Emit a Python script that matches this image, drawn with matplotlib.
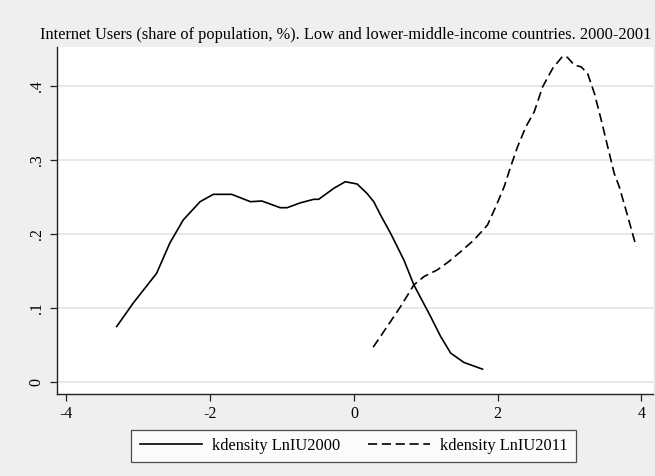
import numpy as np
import matplotlib.pyplot as plt

# kernel density estimates
x2000 = [-3.30, -3.07, -2.745, -2.56, -2.374, -2.14, -1.955, -1.70, -1.44, -1.28,
         -1.025, -0.93, -0.746, -0.56, -0.49, -0.28, -0.12, 0.045, 0.18, 0.276,
         0.37, 0.51, 0.695, 0.834, 1.067, 1.206, 1.346, 1.53, 1.788]
y2000 = [0.0754, 0.107, 0.147, 0.188, 0.219, 0.2436, 0.2535, 0.2535, 0.2436, 0.2445,
         0.2355, 0.2355, 0.242, 0.2468, 0.2468, 0.2616, 0.2705, 0.2674, 0.2549, 0.2436,
         0.2257, 0.201, 0.165, 0.1315, 0.0888, 0.062, 0.0396, 0.027, 0.018]

x2011 = [0.268, 0.463, 0.649, 0.834, 0.974, 1.16, 1.32, 1.485, 1.67, 1.858,
         1.973, 2.09, 2.18, 2.276, 2.392, 2.508, 2.625, 2.764, 2.904, 2.97,
         3.066, 3.16, 3.25, 3.345, 3.44, 3.53, 3.62, 3.69, 3.81, 3.926]
y2011 = [0.0476, 0.0754, 0.1023, 0.1315, 0.1427, 0.1517, 0.1629, 0.1763, 0.192, 0.2122,
         0.2369, 0.2638, 0.2907, 0.3176, 0.3445, 0.3647, 0.3984, 0.4231, 0.4397, 0.438,
         0.4276, 0.4253, 0.4164, 0.3895, 0.3536, 0.3176, 0.2818, 0.2638, 0.2234, 0.183]

xticks = [-4, -2, 0, 2, 4]
yticks = [0, 0.1, 0.2, 0.3, 0.4]
yticklabels = ['0', '.1', '.2', '.3', '.4']

# title runs off the right edge in the original, text as visible there
title = ('Internet Users (share of population, %). Low and lower-middle-income '
         'countries. 2000-2001')
labels = ['kdensity LnIU2000', 'kdensity LnIU2011']

plt.rcParams['font.family'] = ['Liberation Serif', 'DejaVu Serif']

fig = plt.figure(figsize=(6.55, 4.76), dpi=100, facecolor='#efefef')
ax = fig.add_axes([57 / 655, 1 - 394 / 476, 596 / 655, 347 / 476])
ax.set_facecolor('white')

l1, = ax.plot(x2000, y2000, color='black', lw=1.2)
l2, = ax.plot(x2011, y2011, color='black', lw=1.2, dashes=(5.5, 2.8))

ax.set_xlim(-4.13, 4.16)
ax.set_ylim(-0.0155, 0.452)
ax.set_xticks(xticks)
ax.set_xticklabels([str(t) for t in xticks])
ax.set_yticks(yticks)
ax.set_yticklabels(yticklabels, rotation=90, va='center')

ax.grid(axis='y', color='#e6e6e6', lw=1.3)
ax.set_axisbelow(True)
for s in ['top', 'right']:
    ax.spines[s].set_visible(False)
for s in ['left', 'bottom']:
    ax.spines[s].set_color('#222222')
    ax.spines[s].set_linewidth(1.0)
ax.tick_params(direction='out', length=5, width=0.9, color='#222222',
               labelsize=11.5, pad=4)

fig.text(40.5 / 655, 1 - 39 / 476, title, fontsize=11.8, va='baseline', ha='left')

leg = fig.legend([l1, l2], labels, loc='center', bbox_to_anchor=(353.5 / 655, 1 - 446 / 476),
                 ncol=2, fontsize=11.8, frameon=True, fancybox=False, handlelength=3.8,
                 columnspacing=1.7, handletextpad=0.6, borderpad=0.5)
leg.get_frame().set_edgecolor('#222222')
leg.get_frame().set_linewidth(0.9)

fig.savefig('out.png', dpi=100, facecolor=fig.get_facecolor())
